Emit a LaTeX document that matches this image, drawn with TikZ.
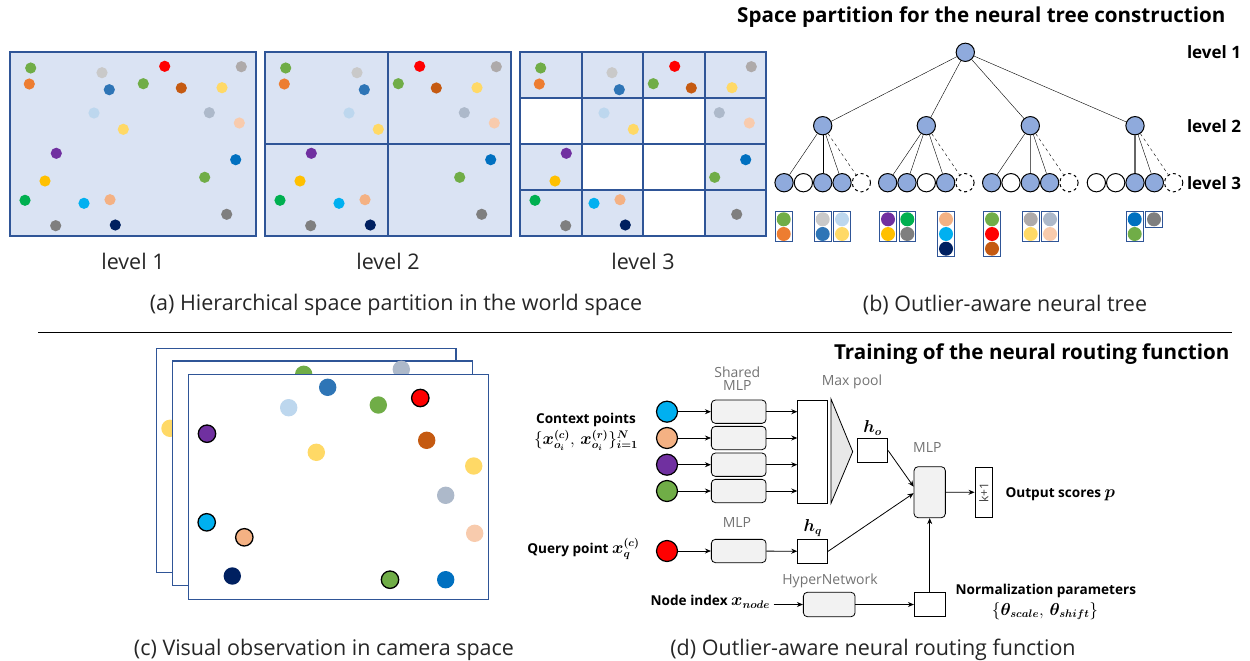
\documentclass[tikz,border=0pt]{standalone}
\usepackage{amsmath}
\usepackage{bm}
\usepackage{fontspec}
\setmainfont{Open Sans}
\usetikzlibrary{arrows.meta, positioning}

% office palette
\definecolor{cellblue}{HTML}{DAE3F3}
\definecolor{edgeblue}{HTML}{2F5597}
\definecolor{nodeblue}{HTML}{8FAADC}
\definecolor{boxgray}{HTML}{F2F2F2}
\definecolor{cG}{HTML}{70AD47}
\definecolor{cO}{HTML}{ED7D31}
\definecolor{cLG}{HTML}{C9C9C9}
\definecolor{cB}{HTML}{2E75B6}
\definecolor{cR}{HTML}{FF0000}
\definecolor{cBr}{HTML}{C55A11}
\definecolor{cY}{HTML}{FFD966}
\definecolor{cGy}{HTML}{AEAAAA}
\definecolor{cLB}{HTML}{BDD7EE}
\definecolor{cBG}{HTML}{ADB9CA}
\definecolor{cPe}{HTML}{F8CBAD}
\definecolor{cP}{HTML}{7030A0}
\definecolor{cBb}{HTML}{0070C0}
\definecolor{cGd}{HTML}{FFC000}
\definecolor{cGn}{HTML}{00B050}
\definecolor{cC}{HTML}{00B0F0}
\definecolor{cLO}{HTML}{F4B183}
\definecolor{cGr}{HTML}{7F7F7F}
\definecolor{cN}{HTML}{002060}

% points of the world space (level 1 frame)
\newcommand{\worldpts}{30.7/68/cG, 29.3/84/cO, 102/72.7/cLG, 109.3/89.7/cB, 143.3/83.7/cG,
  164.7/66.3/cR, 181.3/88/cBr, 222/87.7/cY, 241.3/66.7/cGy, 94/113/cLB, 123.3/129.3/cY,
  209.3/112.7/cBG, 239.3/123/cPe, 56.3/153.3/cP, 235.7/159.7/cBb, 204.7/177.3/cG,
  45/181/cGd, 25/200.3/cGn, 84/203.3/cC, 110/199.7/cLO, 226.7/214.3/cGr, 55.7/225.7/cGr,
  115.3/225/cN}
% math in labels, a bit larger than the text
\newcommand{\mathlbl}[1]{{\fontsize{16}{18}\selectfont$#1$}}

\tikzset{
  capt/.style={font=\fontsize{21.5}{25}\selectfont, text=black!85},
  bold/.style={font=\bfseries\fontsize{13.6}{16}\selectfont},
  lvl/.style={font=\bfseries\fontsize{17}{20}\selectfont},
  title/.style={font=\bfseries\fontsize{20.6}{24}\selectfont},
  glabel/.style={font=\fontsize{14}{16}\selectfont, text=black!55, align=center},
  tfull/.style={circle, draw, line width=1pt, fill=nodeblue, minimum size=18.3, inner sep=0pt},
  tempty/.style={tfull, fill=white},
  tghost/.style={tfull, fill=white, dashed},
  inpt/.style={circle, draw, line width=1.2pt, minimum size=21, inner sep=0pt},
  mlp/.style={draw, line width=0.8pt, rounded corners=4pt, fill=boxgray, minimum width=54.7, minimum height=23.3},
  feat/.style={draw, line width=0.8pt, fill=white, inner sep=0pt},
  arr/.style={-{Stealth[length=6pt, width=5pt]}, line width=0.8pt}
}

\begin{document}
\begin{tikzpicture}[x=1pt, y=-1pt]
  \useasboundingbox (0,0) rectangle (1250,661);

  % (a) level 1
  \fill[cellblue] (10,52) rectangle (256,236);
  \draw[edgeblue, line width=2pt] (10,52) rectangle (256,236);
  \foreach \px/\py/\pc in \worldpts \fill[\pc] (\px,\py) circle[radius=5.6pt];
  \node[capt] (lva) at (133,261) {level 1};

  % (a) level 2, four cells
  \begin{scope}[shift={(255,0)}]
    \fill[cellblue] (10,52) rectangle (256,236);
    \draw[edgeblue, line width=2pt] (10,52) rectangle (256,236);
    \draw[edgeblue, line width=2pt] (133,52) -- (133,236) (10,144) -- (256,144);
    \foreach \px/\py/\pc in \worldpts \fill[\pc] (\px,\py) circle[radius=5.6pt];
    \node[capt] (lvb) at (133,261) {level 2};
  \end{scope}

  % (a) level 3, sixteen cells, five of them empty
  \begin{scope}[shift={(510,0)}]
    \fill[cellblue] (10,52) rectangle (256,236);
    \foreach \c/\r in {0/1, 2/1, 1/2, 2/2, 2/3}
      \fill[white] ({10+61.5*\c},{52+46*\r}) rectangle ({71.5+61.5*\c},{98+46*\r});
    \foreach \k in {1,2,3} {
      \draw[edgeblue, line width=2pt] ({10+61.5*\k},52) -- ({10+61.5*\k},236);
      \draw[edgeblue, line width=2pt] (10,{52+46*\k}) -- (256,{52+46*\k});
    }
    \draw[edgeblue, line width=2pt] (10,52) rectangle (256,236);
    \foreach \px/\py/\pc in \worldpts \fill[\pc] (\px,\py) circle[radius=5.6pt];
    \node[capt] (lvc) at (133,261) {level 3};
  \end{scope}
  \node[capt] (capa) at (396,305) {(a) Hierarchical space partition in the world space};

  % (b) neural tree
  \node[title, anchor=east] (ttl) at (1229,17) {Space partition for the neural tree construction};
  \node[tfull] (t0) at (965.3,52.3) {};
  \foreach \i/\mx in {1/822.7, 2/926.3, 3/1030.3, 4/1135} {
    \node[tfull] (t\i) at (\mx,125.7) {};
    \draw (t0) -- (t\i);
  }
  \foreach \i/\mx/\pat in {1/822.7/{tfull,tempty,tfull,tfull,tghost},
                           2/926.3/{tfull,tfull,tempty,tfull,tghost},
                           3/1030.3/{tfull,tempty,tfull,tfull,tghost},
                           4/1135/{tempty,tempty,tfull,tfull,tghost}} {
    \foreach \kind [count=\j] in \pat
      \node[\kind] (t\i\j) at ({\mx+(\j-3)*19.33},182.7) {};
  }
  \foreach \i/\j in {1/1, 1/3, 1/4, 2/1, 2/2, 2/4, 3/1, 3/4, 4/4} \draw (t\i) -- (t\i\j);
  \foreach \i in {3,4} \draw[black!60, line width=1.2pt] (t\i) -- (t\i3);
  \foreach \i in {1,...,4} \draw[dashed] (t\i) -- (t\i5);
  \node[lvl] (lv1) at (1214,52) {level 1};
  \node[lvl] (lv2) at (1214,126) {level 2};
  \node[lvl] (lv3) at (1214,183) {level 3};

  % points stored in the leaves
  \foreach \lx/\n/\cols in {783.7/2/{cG,cO}, 822.7/2/{cLG,cB}, 842/2/{cLB,cY}, 888/2/{cP,cGd},
      907.3/2/{cGn,cGr}, 946/3/{cLO,cC,cN}, 992/3/{cG,cR,cBr}, 1030.7/2/{cGy,cY},
      1050/2/{cBG,cPe}, 1134.7/2/{cBb,cG}, 1154/1/{cGr}} {
    \foreach \cc [count=\k] in \cols \fill[\cc] (\lx,{204.6+\k*14.7}) circle[radius=7pt];
    \draw[edgeblue, line width=1pt] (\lx-8.3,211) rectangle (\lx+8.3,{211+\n*14.7+1.5});
  }
  \node[capt] (capb) at (1005,305) {(b) Outlier-aware neural tree};

  \draw[line width=0.8pt] (38,332) -- (1232,332);

  % (c) camera frames, back to front
  \filldraw[fill=white, draw=edgeblue, line width=1.5pt] (156.7,348.3) rectangle (456,572.3);
  \fill[cY] (170,428.3) circle[radius=8.7pt];
  \filldraw[fill=white, draw=edgeblue, line width=1.5pt] (172.7,361) rectangle (472.7,585.7);
  \fill[cG] (303.7,374.3) circle[radius=8.7pt];
  \fill[cBG] (401.3,369.3) circle[radius=8.7pt];
  \filldraw[fill=white, draw=edgeblue, line width=1.5pt] (188.3,374.3) rectangle (488.3,599.3);
  \foreach \px/\py/\pc in {327.7/387.3/cB, 288.7/407.7/cLB, 378.3/405/cG, 316.3/452.3/cY,
      426.7/440.3/cBr, 473.7/466/cY, 445.7/495.3/cBG, 474.7/533.3/cPe, 232.3/576/cN,
      445.7/579.7/cBb}
    \fill[\pc] (\px,\py) circle[radius=8.7pt];
  % context and query points keep a black rim
  \foreach \px/\py/\pc in {420.3/398/cR, 207/433.7/cP, 206.7/522.3/cC, 244.3/537.3/cLO, 390/579.7/cG}
    \filldraw[fill=\pc, draw=black, line width=1.3pt] (\px,\py) circle[radius=8.7pt];
  \node[capt] (capc) at (324,650) {(c) Visual observation in camera space};

  % (d) routing function
  \node[title, anchor=east] (ttd) at (1233,354) {Training of the neural routing function};
  \node[glabel] (shl) at (737.3,378.5) {Shared\\[-3pt]MLP};
  \foreach \i/\yy/\cc in {1/411.7/cC, 2/438/cLO, 3/464.7/cP, 4/491/cG} {
    \node[inpt, fill=\cc] (c\i) at (667,\yy) {};
    \node[mlp] (s\i) at (738.7,\yy) {};
    \draw[arr] (c\i) -- (s\i);
  }
  \node[feat, minimum width=30, minimum height=103.3] (pool) at (812.7,451.7) {};
  \foreach \i in {1,...,4} \draw[arr] (s\i) -- (s\i -| pool.west);
  \filldraw[fill=black!9, line width=0.8pt] (831,399) -- (852.7,451.7) -- (831,503.3) -- cycle;
  \node[glabel] (mpl) at (852,382) {Max pool};
  \node[feat, minimum width=30.4, minimum height=24.4] (ho) at (872.5,450.5) {};
  \node[above=-1pt of ho] (hol) {\mathlbl{\bm{h_o}}};
  \node[bold, inner sep=1pt] (ctx) at (586,420) {Context points};
  \node[bold, inner sep=1pt, below=1pt of ctx] (ctxm)
    {\mathlbl{\{\bm{x_{o_i}^{(c)}},\, \bm{x_{o_i}^{(r)}}\}_{\bm{i=1}}^{\bm{N}}}};

  \node[inpt, fill=cR] (q) at (667,551) {};
  \node[mlp] (qm) at (738.7,551) {};
  \node[glabel] (qml) at (737,522) {MLP};
  \node[feat, minimum width=30, minimum height=24] (hq) at (812.7,551.3) {};
  \node[above=-1pt of hq] (hql) {\mathlbl{\bm{h_q}}};
  \draw[arr] (q) -- (qm);
  \draw[arr] (qm) -- (hq);
  \node[bold, anchor=east] (qtx) at (643,549) {Query point \mathlbl{\bm{x_q^{(c)}}}};

  \node[mlp, minimum width=31.3, minimum height=51] (fin) at (929.7,492.2) {};
  \node[glabel] (finl) at (927.3,447.3) {MLP};
  \draw[arr] (ho.east) -- ([yshift=5.5pt]fin.west);
  \draw[arr] (hq.east) -- ([yshift=-1pt]fin.west);
  \node[feat, rotate=90, minimum width=50.7, minimum height=17.7,
        font=\fontsize{12}{12}\selectfont, text=black!75] (k1) at (983.8,492.3) {k+1};
  \draw[arr] (fin) -- (k1);
  \node[bold, anchor=west] (outl) at (1002,494) {Output scores \mathlbl{\bm{p}}};

  \node[mlp, minimum width=51.7, minimum height=24.4] (hyp) at (829.2,604.5) {};
  \node[glabel] (hypl) at (830,581) {HyperNetwork};
  \node[bold, anchor=east] (nidx) at (773.5,602) {Node index \mathlbl{\bm{x_{node}}}};
  \draw[arr] (nidx.east |- hyp) -- (hyp);
  \node[feat, minimum width=30.7, minimum height=24.4] (nrm) at (929.7,604.5) {};
  \draw[arr] (hyp) -- (nrm);
  \draw[arr] (nrm) -- (fin);
  \node[bold, anchor=west] (nrml) at (952,590.7) {Normalization parameters};
  \node[bold] (nrmp) at (1045,611) {\mathlbl{\{\bm{\theta_{scale}},\, \bm{\theta_{shift}}\}}};
  \node[capt] (capd) at (873,650) {(d) Outlier-aware neural routing function};
\end{tikzpicture}
\end{document}
